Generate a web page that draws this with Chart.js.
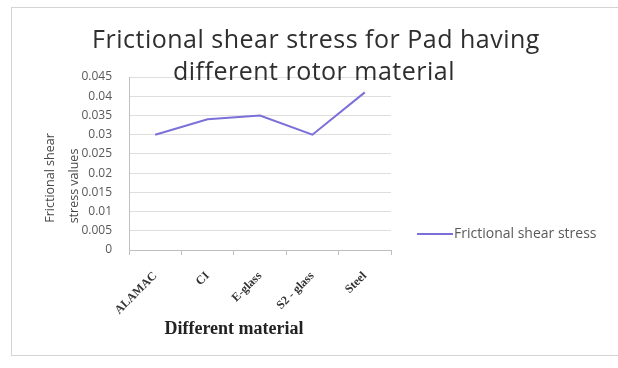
<!DOCTYPE html>
<html>
<head>
<meta charset="utf-8">
<script src="https://cdn.jsdelivr.net/npm/chart.js@4.4.1/dist/chart.umd.min.js"></script>
<style>
  html, body { margin: 0; padding: 0; background: #ffffff; }
  #wrap { width: 618px; height: 368px; position: relative; }
</style>
</head>
<body>
<div id="wrap"><canvas id="c" width="618" height="368"></canvas></div>
<script>
// Rotor materials and the frictional shear stress measured for each
const materials = ['ALAMAC', 'CI', 'E-glass', 'S2 - glass', 'Steel'];
const shearStress = [0.030, 0.034, 0.035, 0.030, 0.041];
const seriesName = 'Frictional shear stress';
const titleLines = ['Frictional shear stress for Pad having', 'different rotor material'];
const yTitleLines = ['Frictional shear', 'stress values'];
const xTitle = 'Different material';

const lineColor = '#7b70d8';
const textGray = '#595959';

// Frame, titles and legend drawn around the plot area
const decorations = {
  id: 'decorations',
  beforeDraw(chart) {
    const ctx = chart.ctx;
    ctx.save();
    ctx.fillStyle = '#ffffff';
    ctx.fillRect(0, 0, chart.width, chart.height);
    ctx.strokeStyle = '#d4d4d4';
    ctx.lineWidth = 1;
    ctx.strokeRect(11.5, 7.5, 620, 348);
    ctx.restore();
  },
  afterDraw(chart) {
    const ctx = chart.ctx;
    ctx.save();
    // chart title
    ctx.fillStyle = '#2e2e2e';
    ctx.font = '25px "Open Sans"';
    ctx.letterSpacing = '0.5px';
    ctx.textAlign = 'center';
    ctx.textBaseline = 'alphabetic';
    ctx.fillText(titleLines[0], 316, 48);
    ctx.fillText(titleLines[1], 314, 80);
    ctx.letterSpacing = '0px';

    // vertical axis title, two rotated lines
    ctx.fillStyle = '#474747';
    ctx.font = '12.5px "Open Sans"';
    ctx.textBaseline = 'middle';
    ctx.save();
    ctx.translate(50, 178);
    ctx.rotate(-Math.PI / 2);
    ctx.fillText(yTitleLines[0], 0, 0);
    ctx.restore();
    ctx.save();
    ctx.translate(74, 186);
    ctx.rotate(-Math.PI / 2);
    ctx.fillText(yTitleLines[1], 0, 0);
    ctx.restore();

    // horizontal axis title
    ctx.fillStyle = '#222222';
    ctx.font = 'bold 18px "Liberation Serif"';
    ctx.fillText(xTitle, 234, 329);

    // legend entry
    const ds = chart.data.datasets[0];
    ctx.strokeStyle = ds.borderColor;
    ctx.lineWidth = 2;
    ctx.beginPath();
    ctx.moveTo(417, 234);
    ctx.lineTo(453, 234);
    ctx.stroke();
    ctx.fillStyle = textGray;
    ctx.font = '14px "Open Sans"';
    ctx.textAlign = 'left';
    ctx.fillText(ds.label, 454, 234);
    ctx.restore();
  }
};

new Chart(document.getElementById('c'), {
  type: 'line',
  data: {
    labels: materials,
    datasets: [{
      label: seriesName,
      data: shearStress,
      borderColor: lineColor,
      backgroundColor: lineColor,
      borderWidth: 2,
      pointRadius: 0,
      tension: 0,
      fill: false
    }]
  },
  options: {
    responsive: false,
    animation: false,
    devicePixelRatio: 1,
    layout: { padding: { left: 0, top: 77, right: 227, bottom: 0 } },
    plugins: {
      legend: { display: false },
      title: { display: false },
      tooltip: { enabled: false }
    },
    scales: {
      x: {
        offset: true,
        afterFit(s) { s.height = 118; },
        grid: {
          offset: true,
          drawOnChartArea: false,
          drawTicks: true,
          tickLength: 5,
          color: '#bfbfbf'
        },
        border: { color: '#bfbfbf' },
        ticks: {
          color: '#333333',
          font: { family: '"Liberation Serif"', size: 12, weight: 'bold' },
          maxRotation: 45,
          minRotation: 45,
          autoSkip: false,
          padding: 14
        }
      },
      y: {
        min: 0,
        max: 0.045,
        afterFit(s) { s.width = 129; },
        grid: { color: '#dedede', drawTicks: false },
        border: { color: '#bfbfbf' },
        ticks: {
          stepSize: 0.005,
          color: textGray,
          font: { family: '"Open Sans"', size: 12 },
          padding: 17,
          callback: v => String(+v.toFixed(3))
        }
      }
    }
  },
  plugins: [decorations]
});
</script>
</body>
</html>
